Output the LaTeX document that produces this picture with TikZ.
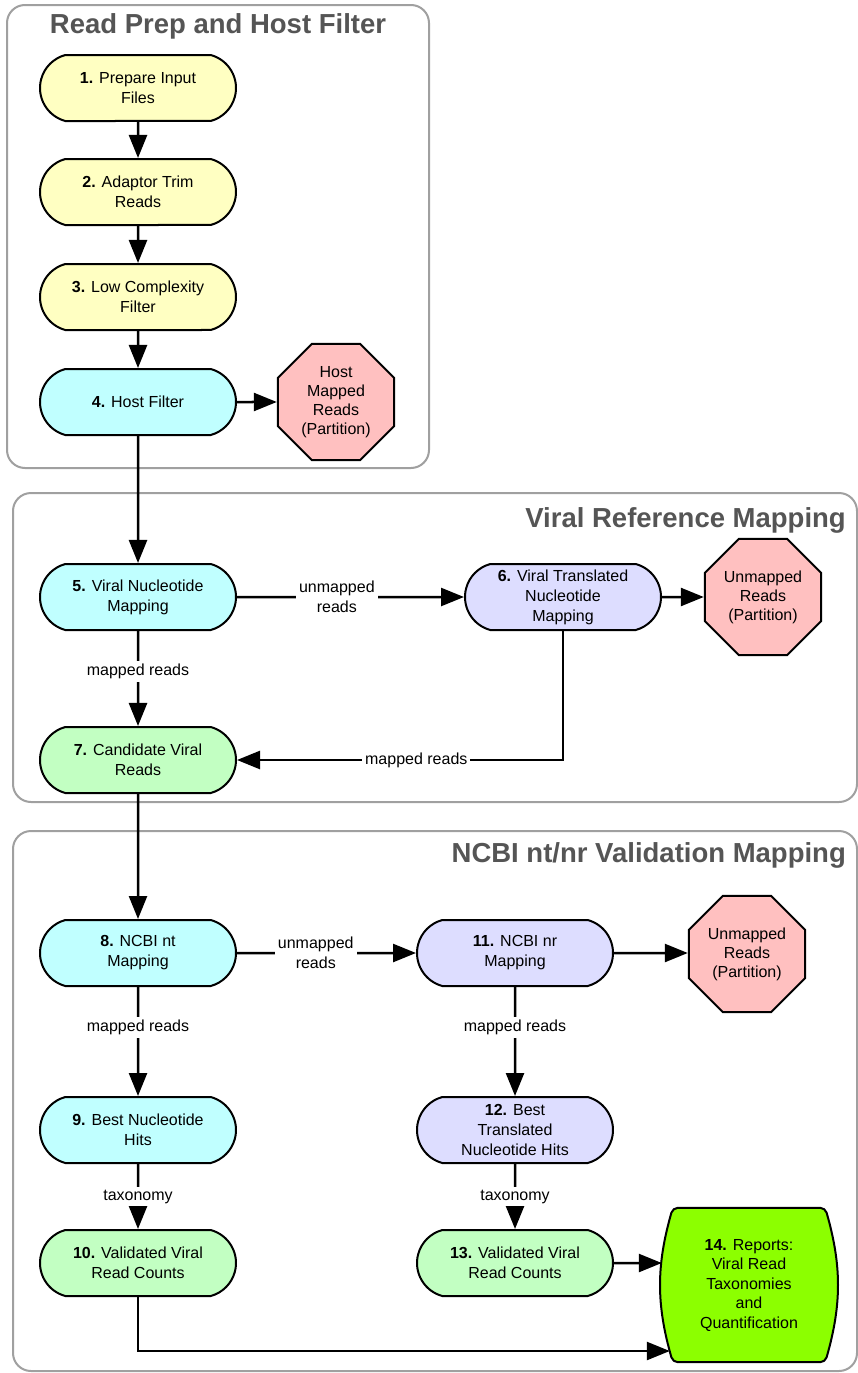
\documentclass[tikz,border=0pt]{standalone}
\usepackage{fontspec}
\setmainfont{Liberation Sans}
\usetikzlibrary{shapes.misc,shapes.geometric,arrows.meta}
\definecolor{cyell}{HTML}{FFFFC2}
\definecolor{ccyan}{HTML}{C0FFFF}
\definecolor{clav}{HTML}{DDDDFF}
\definecolor{cgreen}{HTML}{C2FFC2}
\definecolor{cpink}{HTML}{FFC0C0}
\definecolor{clime}{HTML}{8CFF00}
\definecolor{cgroup}{HTML}{A0A0A0}
\definecolor{ctitle}{HTML}{555555}
\begin{document}
\begin{tikzpicture}[x=1pt,y=-1pt,
 every node/.style={font=\fontsize{16}{20}\selectfont},
 stepbox/.style={rounded rectangle, rounded rectangle arc length=150, draw=black, line width=2pt, minimum width=200pt, minimum height=66pt, inner sep=2pt, align=center},
 octa/.style={regular polygon, regular polygon sides=8, draw=black, line width=2pt, fill=cpink, minimum size=126pt, inner sep=0pt, align=center, font=\fontsize{16}{19}\selectfont},
 grp/.style={draw=cgroup, line width=2pt, rounded corners=18pt},
 gtitle/.style={font=\fontsize{27.5}{30}\selectfont\bfseries, text=ctitle, inner sep=0pt},
 arr/.style={line width=2.5pt, -{Triangle[length=23pt,width=18pt]}},
 lbl/.style={fill=white, inner sep=3pt, align=center},
]
\useasboundingbox (0,0) rectangle (858,1373);
\clip (0,0) rectangle (858,1373);
\fill[white] (0,0) rectangle (858,1373);
% groups
\draw[grp] (7,5) rectangle (429,468);
\draw[grp] (13,493) rectangle (857,802);
\draw[grp] (13,831) rectangle (857,1371);
\node[gtitle, anchor=base] (t1) at (218,33) {Read Prep and Host Filter};
\node[gtitle, anchor=base east] (t2) at (846,527) {Viral Reference Mapping};
\node[gtitle, anchor=base east] (t3) at (846,862) {NCBI nt/nr Validation Mapping};
% nodes
\node[stepbox, fill=cyell] (n1) at (138,88) {\textbf{1.} Prepare Input\\Files};
\node[stepbox, fill=cyell] (n2) at (138,192) {\textbf{2.} Adaptor Trim\\Reads};
\node[stepbox, fill=cyell] (n3) at (138,297) {\textbf{3.} Low Complexity\\Filter};
\node[stepbox, fill=ccyan] (n4) at (138,402) {\textbf{4.} Host Filter};
\node[octa] (h) at (336,402) {Host\\Mapped\\Reads\\(Partition)};
\node[stepbox, fill=ccyan] (n5) at (138,597) {\textbf{5.} Viral Nucleotide\\Mapping};
\node[stepbox, fill=clav] (n6) at (563,597) {\textbf{6.} Viral Translated\\Nucleotide\\Mapping};
\node[octa] (u1) at (763,597) {Unmapped\\Reads\\(Partition)};
\node[stepbox, fill=cgreen] (n7) at (138,760) {\textbf{7.} Candidate Viral\\Reads};
\node[stepbox, fill=ccyan] (n8) at (138,953) {\textbf{8.} NCBI nt\\Mapping};
\node[stepbox, fill=clav] (n11) at (515,953) {\textbf{11.} NCBI nr\\Mapping};
\node[octa] (u2) at (747,954) {Unmapped\\Reads\\(Partition)};
\node[stepbox, fill=ccyan] (n9) at (138,1130) {\textbf{9.} Best Nucleotide\\Hits};
\node[stepbox, fill=clav] (n12) at (515,1130) {\textbf{12.} Best\\Translated\\Nucleotide Hits};
\node[stepbox, fill=cgreen] (n10) at (138,1263) {\textbf{10.} Validated Viral\\Read Counts};
\node[stepbox, fill=cgreen] (n13) at (515,1263) {\textbf{13.} Validated Viral\\Read Counts};
% node 14: frame with bulging sides
\node[minimum width=174pt, minimum height=154pt, inner sep=0pt] (n14) at (749,1285) {};
\draw[line width=2pt, fill=clime, rounded corners=5pt]
  (n14.north) -- ([xshift=-11pt]n14.north east)
  to[bend left=16] ([xshift=-11pt]n14.south east)
  -- ([xshift=11pt]n14.south west)
  to[bend left=16] ([xshift=11pt]n14.north west) -- cycle;
\node[align=center, font=\fontsize{16}{19.5}\selectfont] (n14t) at (n14) {\textbf{14.} Reports:\\Viral Read\\Taxonomies\\and\\Quantification};
\coordinate (e14) at ([shift={(8,66)}]n14.west);
% edges
\draw[arr] (n1) -- (n2);
\draw[arr] (n2) -- (n3);
\draw[arr] (n3) -- (n4);
\draw[arr] (n4) -- (h);
\draw[arr] (n4) -- (n5);
\draw[arr] (n5) -- node[lbl, pos=0.44] {unmapped\\reads} (n6);
\draw[arr] (n6) -- (u1);
\draw[arr] (n5) -- node[lbl, pos=0.43] {mapped reads} (n7);
\draw[arr] (n6) |- node[lbl, pos=0.725] {mapped reads} (n7);
\draw[arr] (n7) -- (n8);
\draw[arr] (n8) -- node[lbl, pos=0.44] {unmapped\\reads} (n11);
\draw[arr] (n11) -- (n11 -| u2.west);
\draw[arr] (n8) -- node[lbl, pos=0.37] {mapped reads} (n9);
\draw[arr] (n11) -- node[lbl, pos=0.37] {mapped reads} (n12);
\draw[arr] (n9) -- node[lbl, pos=0.5] {taxonomy} (n10);
\draw[arr] (n12) -- node[lbl, pos=0.5] {taxonomy} (n13);
\draw[arr] (n13) -- (n13 -| n14.west);
\draw[arr] (n10) |- (e14);
\end{tikzpicture}
\end{document}
